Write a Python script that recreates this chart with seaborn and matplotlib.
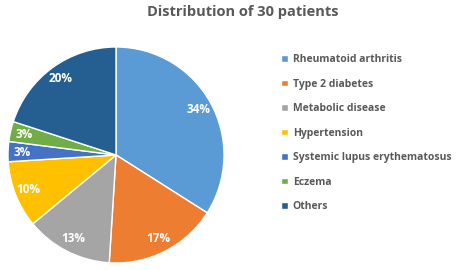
import matplotlib
matplotlib.use('Agg')
import matplotlib.pyplot as plt
import seaborn as sns

# Datos del gráfico
categorias = ['Rheumatoid arthritis', 'Type 2 diabetes', 'Metabolic disease',
              'Hypertension', 'Systemic lupus erythematosus', 'Eczema', 'Others']
porcentajes = [34, 17, 13, 10, 3, 3, 20]
colores = ['#5B9BD5', '#ED7D31', '#A5A5A5', '#FFC000', '#4472C4', '#70AD47', '#255E91']

sns.set_style('white')
plt.rcParams['font.family'] = ['Open Sans', 'DejaVu Sans']

fig = plt.figure(figsize=(4.58, 2.7), dpi=100)
ax = fig.add_axes([0.0175, 0.026, 0.4716, 0.8])

wedges, _, autotexts = ax.pie(
    porcentajes,
    colors=colores,
    startangle=90,
    counterclock=False,
    autopct=lambda p: f'{p:.0f}%',
    pctdistance=0.87,
    wedgeprops=dict(edgecolor='white', linewidth=1),
    textprops=dict(color='white', fontsize=8.5, fontweight='bold'),
)
ax.set_xlim(-1, 1)
ax.set_ylim(-1, 1)
ax.set_aspect('equal')

fig.text(0.53, 0.955, 'Distribution of 30 patients', ha='center', va='center',
         fontsize=10.5, fontweight='bold', color='#595959')

fig.legend(wedges, categorias, loc='upper left', bbox_to_anchor=(0.605, 0.815),
           frameon=False, labelcolor='#595959',
           prop=dict(weight='bold', size=7.5),
           handlelength=0.6, handleheight=0.6, handletextpad=0.5,
           labelspacing=1.3, borderaxespad=0)

fig.savefig('out.png', dpi=100)
